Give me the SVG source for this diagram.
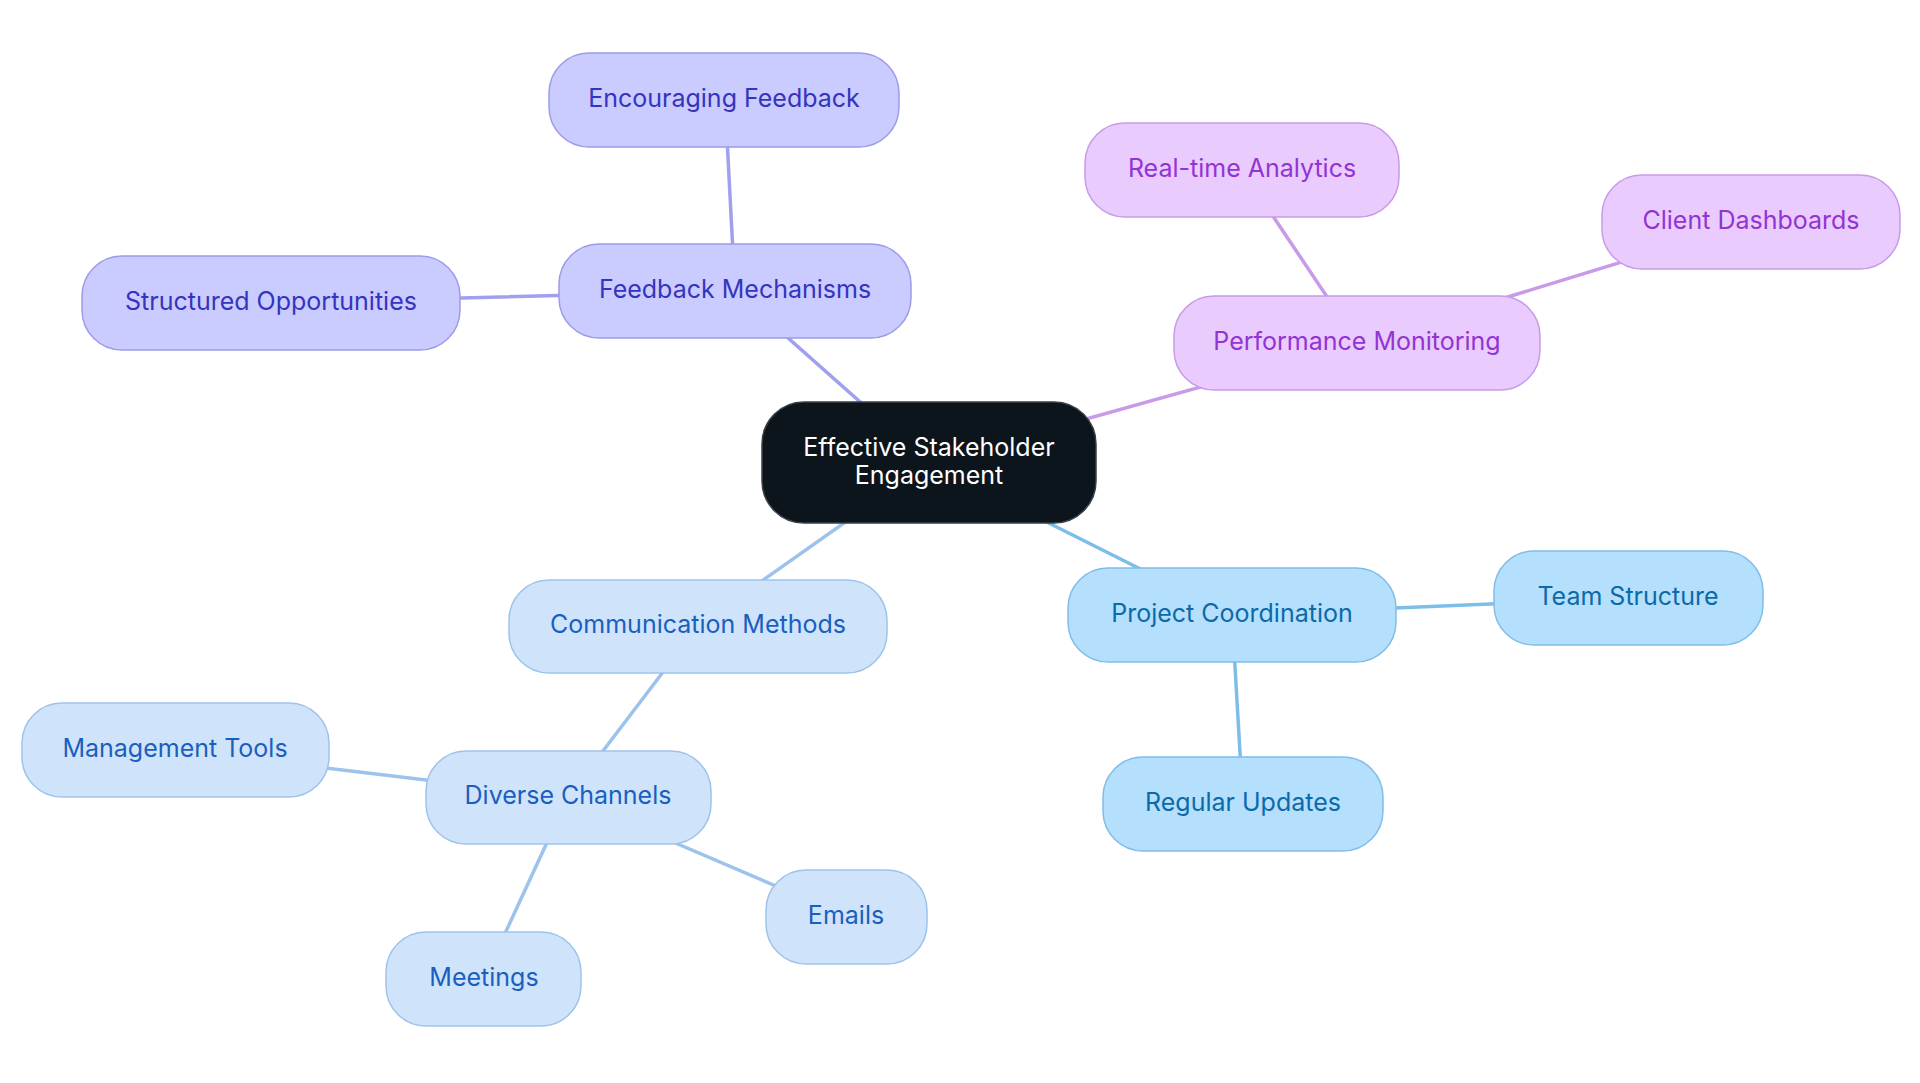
<svg xmlns="http://www.w3.org/2000/svg" width="1920" height="1083" viewBox="0 0 1920 1083">
<style>
text{font-family:Inter,"Noto Sans","Liberation Sans",sans-serif;font-size:25px;text-anchor:middle}
.edge{stroke-width:3.5;fill:none;stroke-linecap:round}
.e-fb{stroke:#a0a0ee}
.e-pm{stroke:#c89be8}
.e-pc{stroke:#7dbee8}
.e-cm{stroke:#9dc3ec}
.n-fb rect{fill:#cacbfe;stroke:#9c9ce8;stroke-width:1.5}
.n-fb text{fill:#3434be}
.n-pm rect{fill:#e9cbfe;stroke:#c99ae6;stroke-width:1.5}
.n-pm text{fill:#9333d3}
.n-pc rect{fill:#b4dffd;stroke:#80bde8;stroke-width:1.5}
.n-pc text{fill:#0c6aa8}
.n-cm rect{fill:#cfe4fb;stroke:#9ec3ea;stroke-width:1.5}
.n-cm text{fill:#1a5fbf}
.n-root rect{fill:#0c141c;stroke:#3a4048;stroke-width:1.5}
.n-root text{fill:#ffffff}
</style>
<rect width="1920" height="1083" fill="#ffffff"/>
<g id="connectors">
<line class="edge e-fb" x1="929" y1="463" x2="735" y2="291"/>
<line class="edge e-fb" x1="735" y1="291" x2="725" y2="100"/>
<line class="edge e-fb" x1="735" y1="291" x2="271" y2="303"/>
<line class="edge e-pm" x1="929" y1="463" x2="1358" y2="343"/>
<line class="edge e-pm" x1="1358" y1="343" x2="1242" y2="170"/>
<line class="edge e-pm" x1="1358" y1="343" x2="1752" y2="222"/>
<line class="edge e-pc" x1="929" y1="463" x2="1232" y2="615"/>
<line class="edge e-pc" x1="1232" y1="615" x2="1629" y2="598"/>
<line class="edge e-pc" x1="1232" y1="615" x2="1243" y2="804"/>
<line class="edge e-cm" x1="929" y1="463" x2="698" y2="626"/>
<line class="edge e-cm" x1="698" y1="626" x2="568" y2="797"/>
<line class="edge e-cm" x1="568" y1="797" x2="175" y2="750"/>
<line class="edge e-cm" x1="568" y1="797" x2="484" y2="979"/>
<line class="edge e-cm" x1="568" y1="797" x2="846" y2="916"/>
</g>
<g id="root" class="n-root">
<rect x="762" y="402" width="334" height="121" rx="42"/>
<text x="929" y="456">Effective Stakeholder</text>
<text x="929" y="484">Engagement</text>
</g>
<g id="feedback-mechanisms" class="n-fb">
<rect x="559" y="244" width="352" height="94" rx="40"/>
<text x="735" y="298">Feedback Mechanisms</text>
</g>
<g id="encouraging-feedback" class="n-fb">
<rect x="549" y="53" width="350" height="94" rx="40"/>
<text x="724" y="107">Encouraging Feedback</text>
</g>
<g id="structured-opportunities" class="n-fb">
<rect x="82" y="256" width="378" height="94" rx="40"/>
<text x="271" y="310">Structured Opportunities</text>
</g>
<g id="performance-monitoring" class="n-pm">
<rect x="1174" y="296" width="366" height="94" rx="40"/>
<text x="1357" y="350">Performance Monitoring</text>
</g>
<g id="real-time-analytics" class="n-pm">
<rect x="1085" y="123" width="314" height="94" rx="40"/>
<text x="1242" y="177">Real-time Analytics</text>
</g>
<g id="client-dashboards" class="n-pm">
<rect x="1602" y="175" width="298" height="94" rx="40"/>
<text x="1751" y="229">Client Dashboards</text>
</g>
<g id="project-coordination" class="n-pc">
<rect x="1068" y="568" width="328" height="94" rx="40"/>
<text x="1232" y="622">Project Coordination</text>
</g>
<g id="team-structure" class="n-pc">
<rect x="1494" y="551" width="269" height="94" rx="40"/>
<text x="1628" y="605">Team Structure</text>
</g>
<g id="regular-updates" class="n-pc">
<rect x="1103" y="757" width="280" height="94" rx="40"/>
<text x="1243" y="811">Regular Updates</text>
</g>
<g id="communication-methods" class="n-cm">
<rect x="509" y="580" width="378" height="93" rx="40"/>
<text x="698" y="633">Communication Methods</text>
</g>
<g id="diverse-channels" class="n-cm">
<rect x="426" y="751" width="285" height="93" rx="40"/>
<text x="568" y="804">Diverse Channels</text>
</g>
<g id="management-tools" class="n-cm">
<rect x="22" y="703" width="307" height="94" rx="40"/>
<text x="175" y="757">Management Tools</text>
</g>
<g id="meetings" class="n-cm">
<rect x="386" y="932" width="195" height="94" rx="40"/>
<text x="484" y="986">Meetings</text>
</g>
<g id="emails" class="n-cm">
<rect x="766" y="870" width="161" height="94" rx="40"/>
<text x="846" y="924">Emails</text>
</g>
</svg>
